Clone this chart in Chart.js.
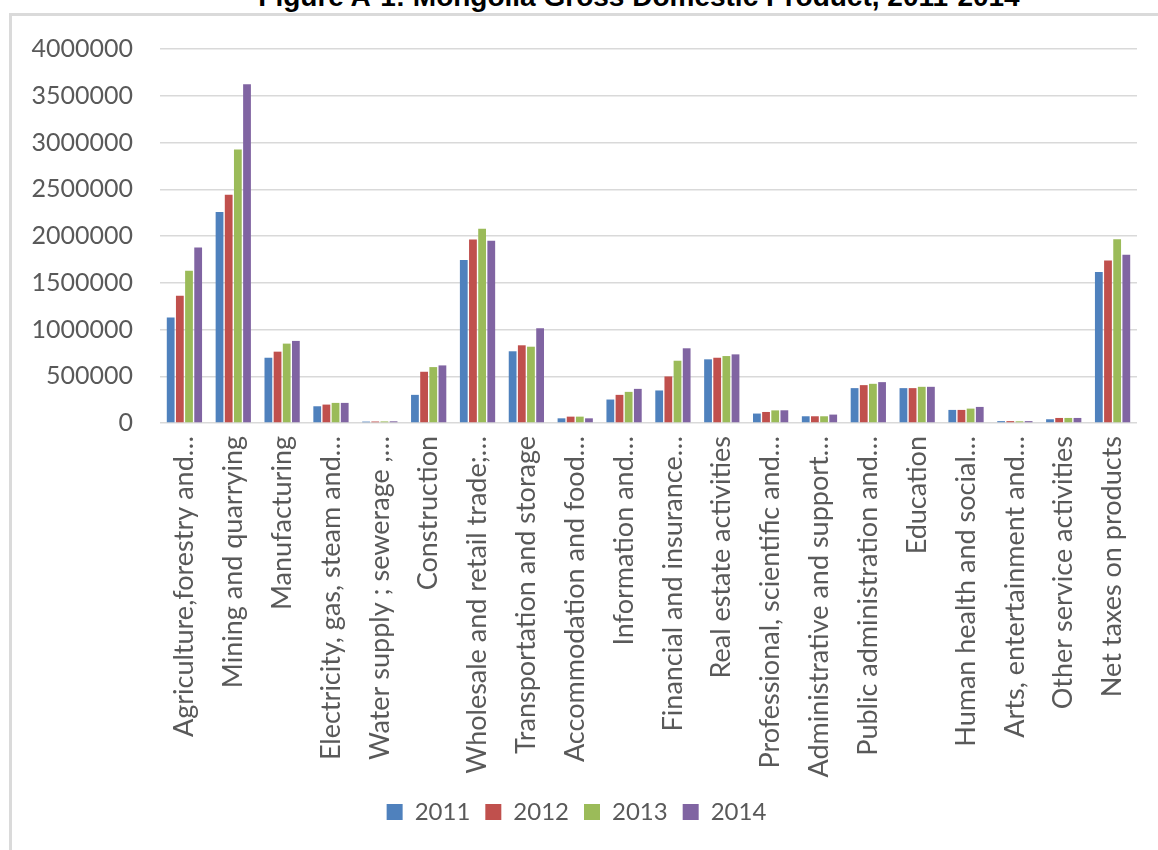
<!DOCTYPE html>
<html>
<head>
<meta charset="utf-8">
<title>Mongolia Gross Domestic Product, 2011-2014</title>
<script src="https://cdn.jsdelivr.net/npm/chart.js@4/dist/chart.umd.min.js"></script>
<style>
  html, body { margin: 0; padding: 0; background: #ffffff; }
  body { width: 1158px; height: 850px; position: relative; overflow: hidden; }
  #title {
    position: absolute; left: 0; width: 1278px; top: -17px;
    text-align: center; font: bold 28px/28px "Liberation Sans", Arial, sans-serif;
    color: #000000; white-space: nowrap;
  }
  #frame {
    position: absolute; left: 9px; top: 13px; right: -10px; bottom: -10px;
    border-left: 3px solid #dadada; border-top: 3px solid #dadada;
  }
  #chart { position: absolute; left: 0; top: 0; }
</style>
</head>
<body>
<div id="title">Figure A-1: Mongolia Gross Domestic Product, 2011-2014</div>
<div id="frame"></div>
<canvas id="chart" width="1158" height="850"></canvas>
<script>
// Economic sectors (x-axis categories), as labelled on the axis
const sectors = [
  "Agriculture,forestry and…",
  "Mining and quarrying",
  "Manufacturing",
  "Electricity, gas, steam and…",
  "Water supply ; sewerage ,…",
  "Construction",
  "Wholesale and retail trade;…",
  "Transportation and storage",
  "Accommodation and food…",
  "Information and…",
  "Financial and insurance…",
  "Real estate activities",
  "Professional, scientific and…",
  "Administrative and support…",
  "Public administration and…",
  "Education",
  "Human health and social…",
  "Arts, entertainment and…",
  "Other service activities",
  "Net taxes on products"
];

const years = ["2011", "2012", "2013", "2014"];

// Value added by sector, one array per year
const gdp2011 = [1128000, 2256000, 698000, 179000, 15000, 301000, 1744000, 767000, 50000, 251000,
                 348000, 681000, 101000, 72000, 373000, 373000, 140000, 20000, 40000, 1616000];
const gdp2012 = [1361000, 2442000, 763000, 197000, 16000, 548000, 1962000, 831000, 68000, 301000,
                 498000, 698000, 118000, 72000, 405000, 373000, 140000, 20000, 54000, 1738000];
const gdp2013 = [1629000, 2925000, 849000, 215000, 17000, 598000, 2077000, 816000, 68000, 333000,
                 666000, 716000, 135000, 72000, 419000, 387000, 154000, 18000, 54000, 1965000];
const gdp2014 = [1876000, 3624000, 878000, 215000, 18000, 616000, 1948000, 1014000, 50000, 365000,
                 799000, 734000, 136000, 90000, 437000, 387000, 172000, 20000, 54000, 1800000];

// Y-axis range
const yMin = 0;
const yMax = 4000000;
const yStep = 500000;

const seriesValues = [gdp2011, gdp2012, gdp2013, gdp2014];
const seriesColors = ["#4F81BD", "#C0504D", "#9BBB59", "#8064A2"];

const textColor = "#595959";
const gridColor = "#d9d9d9";
const labelFont = "Lato, 'Open Sans', sans-serif";

new Chart(document.getElementById("chart"), {
  type: "bar",
  data: {
    labels: sectors,
    datasets: years.map((y, i) => ({
      label: y,
      data: seriesValues[i],
      backgroundColor: seriesColors[i],
      borderWidth: 0,
      barPercentage: 0.85,
      categoryPercentage: 0.75
    }))
  },
  options: {
    responsive: false,
    animation: false,
    devicePixelRatio: 1,
    layout: { padding: { left: 16, right: 21, top: 49, bottom: 16 } },
    plugins: {
      title: { display: false },
      tooltip: { enabled: false },
      legend: {
        position: "bottom",
        labels: {
          color: textColor,
          font: { family: labelFont, size: 24 },
          boxWidth: 16,
          boxHeight: 16,
          padding: 15
        }
      }
    },
    scales: {
      x: {
        grid: { display: false, drawTicks: false },
        border: { display: false },
        ticks: {
          color: textColor,
          font: { family: labelFont, size: 27 },
          minRotation: 90,
          maxRotation: 90,
          autoSkip: false,
          padding: 13
        },
        afterFit: (scale) => {
          // fixed axis band; labels sit inside the category offsets
          scale.height = 362;
          scale.paddingLeft = 0;
          scale.paddingRight = 0;
        }
      },
      y: {
        min: yMin,
        max: yMax,
        grid: { color: gridColor, lineWidth: 1.5, drawTicks: false },
        border: { display: false },
        ticks: {
          stepSize: yStep,
          color: textColor,
          font: { family: labelFont, size: 25 },
          padding: 27,
          callback: (v) => String(v)
        },
        afterFit: (scale) => { scale.width = 144; }
      }
    }
  }
});
</script>
</body>
</html>
